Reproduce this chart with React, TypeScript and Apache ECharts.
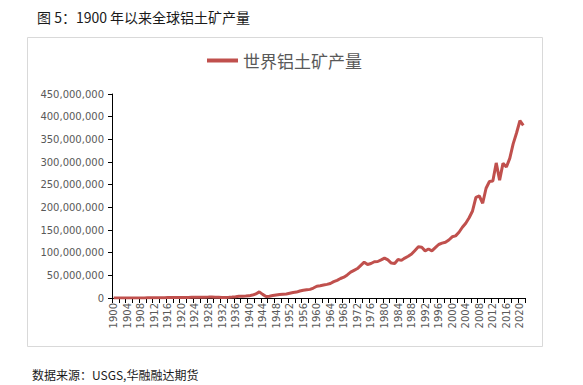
import React, { useEffect, useRef } from "react";
import * as echarts from "echarts";

const years: string[] = [];
for (let y = 1900; y <= 2021; y++) years.push(String(y));

// World bauxite production, million tonnes
const productionMt: number[] = [
  0.09, 0.1, 0.12, 0.12, 0.15, 0.17, 0.2, 0.22, 0.2, 0.25,
  0.3, 0.35, 0.45, 0.55, 0.5, 0.6, 0.9, 1.1, 1.3, 0.9,
  1.2, 0.9, 1.0, 1.5, 1.6, 1.7, 1.8, 1.9, 2.0, 2.2,
  1.8, 1.4, 1.0, 1.2, 1.5, 2.0, 2.8, 3.8, 4.0, 4.3,
  4.7, 6.5, 9.0, 13.5, 8.0, 3.5, 4.0, 5.5, 6.5, 7.5,
  8.3, 9.0, 10.5, 12.0, 13.0, 15.5, 17.0, 18.0, 19.0, 22.0,
  26.0, 27.0, 28.5, 30.0, 32.0, 36.0, 39.0, 43.0, 46.0, 51.0,
  57.0, 61.0, 65.0, 72.0, 79.0, 74.0, 76.0, 80.0, 80.5, 84.0,
  88.0, 84.0, 77.0, 76.0, 85.0, 83.0, 88.0, 92.0, 97.0, 105.0,
  113.0, 112.0, 104.0, 108.0, 104.0, 111.0, 118.0, 121.0, 123.0, 128.0,
  135.0, 137.0, 145.0, 156.0, 165.0, 177.0, 192.0, 222.0, 225.0, 209.0,
  242.0, 257.0, 258.0, 298.0, 260.0, 297.0, 289.0, 308.0, 340.0, 364.0,
  391.0, 381.0,
];

const seriesName = "世界铝土矿产量";
const titleText = "图 5：1900 年以来全球铝土矿产量";
const sourceText = "数据来源：USGS,华融融达期货";

const fmt = (v: number) => String(Math.round(v)).replace(/\B(?=(\d{3})+(?!\d))/g, ",");

export default function App() {
  const ref = useRef<HTMLDivElement>(null);
  useEffect(() => {
    if (!ref.current) return;
    const chart = echarts.init(ref.current, undefined, { renderer: "svg" });
    chart.setOption({
      animation: false,
      backgroundColor: "#ffffff",
      graphic: [
        {
          type: "rect",
          shape: { x: 27.5, y: 37.5, width: 515, height: 309 },
          style: { fill: "none", stroke: "#d9d9d9", lineWidth: 1 },
          z: 0,
        },
        {
          type: "text",
          x: 37,
          y: 17,
          style: {
            text: titleText,
            font: "14px 'Noto Sans CJK SC'",
            fill: "#1a1a1a",
            textVerticalAlign: "middle",
          },
        },
        {
          type: "text",
          x: 32,
          y: 374,
          style: {
            text: sourceText,
            font: "12px 'Noto Sans CJK SC'",
            fill: "#1a1a1a",
            textVerticalAlign: "middle",
          },
        },
      ],
      legend: {
        data: [seriesName],
        left: 207,
        top: 52,
        padding: 0,
        icon: "rect",
        itemWidth: 31,
        itemHeight: 4,
        textStyle: {
          fontSize: 17,
          color: "#595959",
          fontFamily: "'Noto Sans CJK SC'",
        },
      },
      grid: { left: 112, right: 58, top: 94, bottom: 87, containLabel: false },
      xAxis: {
        type: "category",
        data: years,
        boundaryGap: true,
        axisLine: { lineStyle: { color: "#000000", width: 1 } },
        axisTick: { show: true, interval: 1, length: 5, lineStyle: { color: "#000000" } },
        axisLabel: {
          interval: 3,
          rotate: 90,
          fontSize: 10,
          color: "#595959",
          fontFamily: "'DejaVu Sans'",
          margin: 5,
        },
        splitLine: { show: false },
      },
      yAxis: {
        type: "value",
        min: 0,
        max: 450000000,
        interval: 50000000,
        axisLine: { show: true, lineStyle: { color: "#000000", width: 1 } },
        axisTick: { show: true, length: 4, lineStyle: { color: "#000000" } },
        axisLabel: {
          formatter: (v: number) => fmt(v),
          fontSize: 10,
          color: "#595959",
          fontFamily: "'DejaVu Sans'",
          margin: 8,
        },
        splitLine: { show: false },
      },
      series: [
        {
          name: seriesName,
          type: "line",
          data: productionMt.map((v) => v * 1e6),
          showSymbol: false,
          symbol: "none",
          lineStyle: { color: "#c0504d", width: 3 },
          itemStyle: { color: "#c0504d" },
        },
      ],
    });
    return () => chart.dispose();
  }, []);
  return (
    <div
      ref={ref}
      style={{ position: "fixed", left: 0, top: 0, width: 583, height: 385 }}
    />
  );
}
